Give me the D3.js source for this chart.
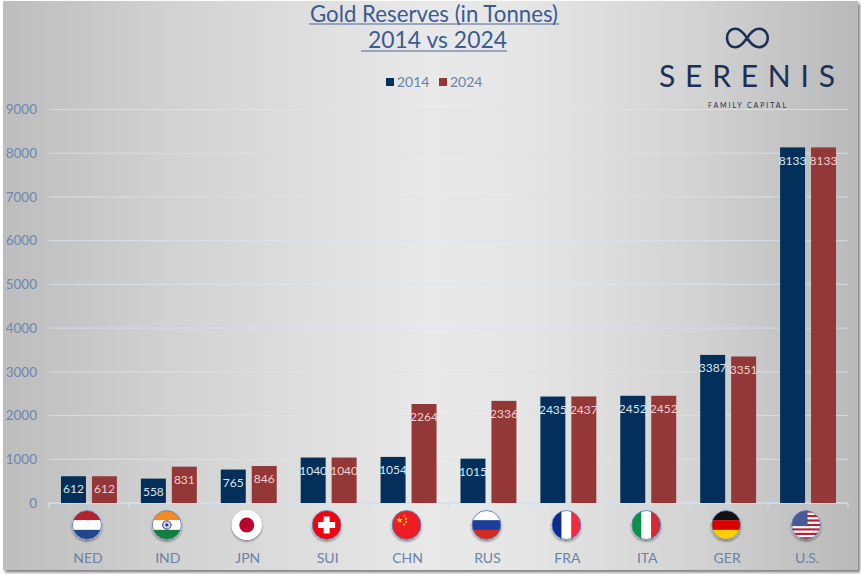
<!DOCTYPE html>
<html>
<head>
<meta charset="utf-8">
<script src="https://cdn.jsdelivr.net/npm/d3@7"></script>
<style>
html,body{margin:0;padding:0;background:#fff;}
svg{display:block;}
text{font-family:Lato,"Open Sans",sans-serif;font-weight:400;}
</style>
</head>
<body>
<div id="chart"></div>
<script>
const titleLines = ["Gold Reserves (in Tonnes)", "2014 vs 2024"];
const categories = ["NED","IND","JPN","SUI","CHN","RUS","FRA","ITA","GER","U.S."];
const seriesNames = ["2014","2024"];
const values2014 = [612,558,765,1040,1054,1015,2435,2452,3387,8133];
const values2024 = [612,831,846,1040,2264,2336,2437,2452,3351,8133];
const yTicks = [0,1000,2000,3000,4000,5000,6000,7000,8000,9000];
const seriesColors = ["#02305a","#933737"];
const labelColors = ["#dfe5ee","#f0d0d0"];

// Flag badges: stripe direction and colours, plus an optional emblem
const flags = [
  {dir:"h", colors:["#b5222d","#ffffff","#21468b"]},
  {dir:"h", colors:["#f58a24","#ffffff","#13803a"], emblem:"chakra"},
  {dir:"h", colors:["#ffffff"], emblem:"sun"},
  {dir:"h", colors:["#f5000f"], emblem:"cross"},
  {dir:"h", colors:["#ee1c25"], emblem:"stars"},
  {dir:"h", colors:["#ffffff","#1c3f9c","#d52b1e"]},
  {dir:"v", colors:["#0d2b8f","#ffffff","#ef2b3d"]},
  {dir:"v", colors:["#0a9245","#ffffff","#ce2b37"]},
  {dir:"h", colors:["#111111","#dd0000","#ffce00"]},
  {dir:"h", colors:["#b22234","#ffffff","#b22234","#ffffff","#b22234","#ffffff","#b22234","#ffffff","#b22234","#ffffff","#b22234","#ffffff","#b22234"], emblem:"canton"}
];

const W = 861, H = 574;
const plot = {left:49, right:848, top:109.5, bottom:503};

const svg = d3.select("#chart").append("svg").attr("width",W).attr("height",H);
const defs = svg.append("defs");

const bg = defs.append("linearGradient").attr("id","panelFill").attr("x1",0).attr("x2",1).attr("y1",0).attr("y2",0);
[[0,"#bdbdbd"],[0.2,"#d2d2d2"],[0.5,"#e9e9e9"],[0.6,"#e6e6e6"],[0.8,"#d4d4d4"],[1,"#b9b9b9"]]
  .forEach(([o,c]) => bg.append("stop").attr("offset",o).attr("stop-color",c));

const panelShadow = defs.append("filter").attr("id","panelShadow").attr("x","-3%").attr("y","-3%").attr("width","106%").attr("height","106%");
panelShadow.append("feDropShadow").attr("dx",2).attr("dy",2.5).attr("stdDeviation",1.6).attr("flood-color","#000").attr("flood-opacity",0.5);
const badgeShadow = defs.append("filter").attr("id","badgeShadow").attr("x","-30%").attr("y","-30%").attr("width","160%").attr("height","160%");
badgeShadow.append("feDropShadow").attr("dx",0).attr("dy",1.5).attr("stdDeviation",1.2).attr("flood-color","#000").attr("flood-opacity",0.45);

svg.append("rect").attr("x",3).attr("y",1).attr("width",855).attr("height",569)
  .attr("fill","url(#panelFill)").attr("filter","url(#panelShadow)");

// Scales
const x = d3.scaleBand().domain(categories).range([plot.left,plot.right]);
const xInner = d3.scaleBand().domain(seriesNames).range([0,x.bandwidth()]).paddingInner(0.1935).paddingOuter(0.387);
const y = d3.scaleLinear().domain([0,9000]).range([plot.bottom,plot.top]);

// Gridlines and value axis
const yAxis = d3.axisLeft(y).tickValues(yTicks).tickSize(0).tickPadding(12).tickFormat(d3.format("d"));
const yG = svg.append("g").attr("transform",`translate(${plot.left},0)`).call(yAxis);
yG.select(".domain").remove();
yG.selectAll("text").attr("fill","#6d86ac").style("font-size","13.5px").style("font-family","Lato,sans-serif");
svg.append("g").selectAll("line").data(yTicks.filter(d => d>0)).join("line")
  .attr("x1",plot.left).attr("x2",plot.right)
  .attr("y1",d => y(d)).attr("y2",d => y(d))
  .attr("stroke","#d9e4f2").attr("stroke-width",1).attr("stroke-opacity",0.75);

// Category axis line with ticks at band edges
const edges = categories.map(c => x(c)).concat(plot.right);
const axisColor = "#d3dfee";
svg.append("line").attr("x1",plot.left).attr("x2",plot.right).attr("y1",y(0)).attr("y2",y(0)).attr("stroke",axisColor).attr("stroke-width",1.4);
svg.append("g").selectAll("line").data(edges).join("line")
  .attr("x1",d => d).attr("x2",d => d).attr("y1",y(0)).attr("y2",y(0)+5)
  .attr("stroke",axisColor).attr("stroke-width",1.2);

// Bars and their value labels
[values2014,values2024].forEach((vals,s) => {
  const name = seriesNames[s];
  const g = svg.append("g");
  g.selectAll("rect").data(vals).join("rect")
    .attr("x",(d,i) => x(categories[i]) + xInner(name))
    .attr("width",xInner.bandwidth())
    .attr("y",d => y(d))
    .attr("height",d => y(0)-y(d))
    .attr("fill",seriesColors[s]);
  g.selectAll("text").data(vals).join("text")
    .attr("x",(d,i) => x(categories[i]) + xInner(name) + xInner.bandwidth()/2)
    .attr("y",d => y(d)+13)
    .attr("dy","0.35em")
    .attr("text-anchor","middle")
    .attr("fill",labelColors[s])
    .style("font-size","12px")
    .text(d => d);
});

// Flag badges under each category
const R = 14.5, cy = 525;
categories.forEach((c,i) => {
  const f = flags[i];
  const cx = x(c) + x.bandwidth()/2 - 2;
  const id = "flagClip" + i;
  defs.append("clipPath").attr("id",id).append("circle").attr("r",R);
  const b = svg.append("g").attr("transform",`translate(${cx},${cy})`);
  b.append("circle").attr("r",R+0.5).attr("fill","#fff").attr("filter","url(#badgeShadow)");
  const fg = b.append("g").attr("clip-path",`url(#${id})`);
  const band = d3.scaleBand().domain(d3.range(f.colors.length)).range([-R,R]);
  f.colors.forEach((col,k) => {
    const r = fg.append("rect").attr("fill",col);
    if (f.dir==="h") r.attr("x",-R).attr("width",2*R).attr("y",band(k)).attr("height",band.bandwidth()+0.3);
    else r.attr("y",-R).attr("height",2*R).attr("x",band(k)).attr("width",band.bandwidth()+0.3);
  });
  if (f.emblem==="chakra") {
    b.append("circle").attr("r",4.2).attr("fill","none").attr("stroke","#2b2f8f").attr("stroke-width",1);
    b.append("circle").attr("r",1.4).attr("fill","#2b2f8f");
    d3.range(8).forEach(k => {
      const a = k*Math.PI/4;
      b.append("line").attr("x2",4*Math.cos(a)).attr("y2",4*Math.sin(a)).attr("stroke","#2b2f8f").attr("stroke-width",0.5);
    });
  }
  if (f.emblem==="sun") b.append("circle").attr("r",7.5).attr("fill","#bc002d");
  if (f.emblem==="cross") {
    b.append("rect").attr("x",-8.5).attr("y",-3).attr("width",17).attr("height",6).attr("fill","#fff");
    b.append("rect").attr("x",-3).attr("y",-8.5).attr("width",6).attr("height",17).attr("fill","#fff");
  }
  if (f.emblem==="stars") {
    const star = d3.symbol().type(d3.symbolStar);
    b.append("path").attr("d",star.size(14)()).attr("transform","translate(-7,-5)").attr("fill","#ffde00");
    [[-2.5,-9],[-0.5,-6],[-0.5,-3],[-2.5,-0.5]].forEach(p =>
      b.append("path").attr("d",star.size(3)()).attr("transform",`translate(${p[0]},${p[1]})`).attr("fill","#ffde00"));
  }
  if (f.emblem==="canton") {
    fg.append("rect").attr("x",-R).attr("y",-R).attr("width",16).attr("height",band(7)+R).attr("fill","#4a5a96");
  }
  const hasRing = f.emblem!=="sun";
  b.append("circle").attr("r",R).attr("fill","none")
    .attr("stroke",hasRing ? "#5f86b8" : "#ffffff").attr("stroke-width",1);
});

// Category labels
svg.append("g").selectAll("text").data(categories).join("text")
  .attr("x",d => x(d)+x.bandwidth()/2 - 1)
  .attr("y",558).attr("dy","0.35em").attr("text-anchor","middle")
  .attr("fill","#6a82a9").style("font-size","14px").text(d => d);

// Title with underlines
const titleColor = "#3a5c90";
svg.append("text").attr("x",434).attr("y",21.5).attr("text-anchor","middle")
  .attr("fill",titleColor).style("font-size","23px").attr("textLength",248).attr("lengthAdjust","spacingAndGlyphs").text(titleLines[0]);
svg.append("text").attr("x",437.5).attr("y",48).attr("text-anchor","middle")
  .attr("fill",titleColor).style("font-size","23px").attr("textLength",139).attr("lengthAdjust","spacingAndGlyphs").text(titleLines[1]);
svg.append("line").attr("x1",309).attr("x2",559).attr("y1",24).attr("y2",24).attr("stroke","#4a6595").attr("stroke-width",1);
svg.append("line").attr("x1",361).attr("x2",507).attr("y1",51).attr("y2",51).attr("stroke","#4a6595").attr("stroke-width",1);

// Legend
const legendX = [386,439];
seriesNames.forEach((n,i) => {
  svg.append("rect").attr("x",legendX[i]).attr("y",78).attr("width",8).attr("height",8).attr("fill",seriesColors[i]);
  svg.append("text").attr("x",legendX[i]+11).attr("y",82).attr("dy","0.35em")
    .attr("fill","#6a82a9").style("font-size","14px").text(n);
});

// Brand mark
const logo = "#1d2f55";
svg.append("path")
  .attr("d","M747 38 C743 32 740 28.8 735.5 28.8 C730 28.8 727 33 727 38 C727 43 730 47.2 735.5 47.2 C740 47.2 743 44 747 38 C751 32 754 28.8 759 28.8 C764.5 28.8 767.8 33 767.8 38 C767.8 43 764.5 47.2 759 47.2 C754 47.2 751 44 747 38 Z")
  .attr("fill","none").attr("stroke",logo).attr("stroke-width",2.6);
svg.append("text").attr("x",747).attr("y",86.5).attr("text-anchor","middle")
  .attr("fill",logo).style("font-size","30px").attr("textLength",176).attr("lengthAdjust","spacing").text("SERENIS");
svg.append("text").attr("x",747).attr("y",107.5).attr("text-anchor","middle")
  .attr("fill",logo).style("font-size","7px").attr("textLength",78).attr("lengthAdjust","spacing").text("FAMILY CAPITAL");
</script>
</body>
</html>
